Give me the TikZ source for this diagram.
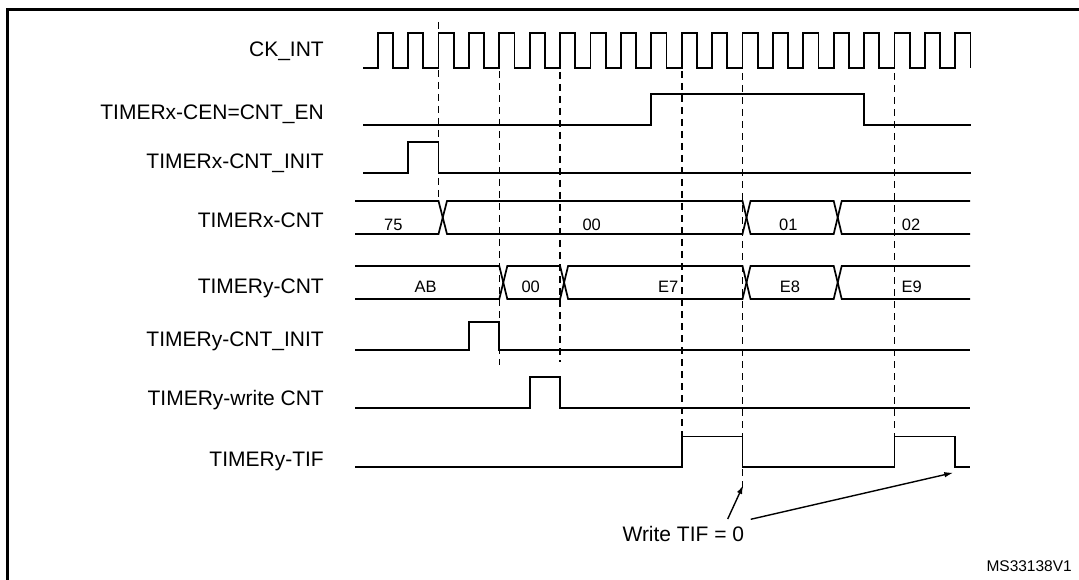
\documentclass[tikz,border=0pt]{standalone}
\usepackage{fontspec}
\setmainfont{Liberation Sans}
\usetikzlibrary{arrows.meta}
\begin{document}
\begin{tikzpicture}[x=1pt,y=-1pt,
  sig/.style={line width=1.7pt, line join=miter},
  guide/.style={line width=1.6pt, dash pattern=on 7pt off 5pt},
  frame/.style={line width=2.4pt},
  lbl/.style={font=\fontsize{21}{24}\selectfont, anchor=base east, inner sep=0pt},
  val/.style={font=\fontsize{16.5}{19}\selectfont, anchor=base, inner sep=0pt},
  note/.style={font=\fontsize{21}{24}\selectfont, anchor=base east, inner sep=0pt},
  tag/.style={font=\fontsize{15.5}{18}\selectfont, anchor=base east, inner sep=0pt},
  pointer/.style={line width=1.4pt, -{Latex[length=9pt,width=5.5pt]}}]
\useasboundingbox (0,0) rectangle (1079,580);
% clock rise positions
\def\Ra{408.1}\def\Rb{438.5}\def\Rc{468.9}\def\Rd{499.3}\def\Re{529.7}\def\Rf{560.1}
\def\Ri{651.3}\def\Rj{681.7}\def\Rl{742.5}\def\Ro{833.7}\def\Rp{864.1}\def\Rq{894.5}\def\Rs{955.3}
% frame
\draw[frame] (7.5,580) -- (7.5,9.6) -- (1079,9.6);
% labels
\node[lbl] (lck)   at (324,57)    {CK\_INT};
\node[lbl] (lcen)  at (324,120)   {TIMERx-CEN=CNT\_EN};
\node[lbl] (lxini) at (324,168.3) {TIMERx-CNT\_INIT};
\node[lbl] (lxcnt) at (324,227.3) {TIMERx-CNT};
\node[lbl] (lycnt) at (324,293.3) {TIMERy-CNT};
\node[lbl] (lyini) at (324,346.7) {TIMERy-CNT\_INIT};
\node[lbl] (lywr)  at (324,405)   {TIMERy-write CNT};
\node[lbl] (ltif)  at (324,466)   {TIMERy-TIF};
% dashed guides
\draw[guide] (\Rb,22) -- (\Rb,201);
\draw[guide] (\Rd,71) -- (\Rd,365);
\draw[guide] (\Rf,72) -- (\Rf,362);
\draw[guide] (\Rj,71) -- (\Rj,437);
\draw[guide] (\Rl,73) -- (\Rl,490);
\draw[guide] (\Rq,73) -- (\Rq,436);
% CK_INT
\draw[sig] (363,68) \foreach \k in {0,...,19}{ -- ({377.7+30.4*\k},68) -- ({377.7+30.4*\k},33) -- ({392.9+30.4*\k},33) -- ({392.9+30.4*\k},68) };
% CEN
\draw[sig] (363,125) -- (\Ri,125) -- (\Ri,94) -- (\Rp,94) -- (\Rp,125) -- (970.5,125);
% TIMERx-CNT_INIT
\draw[sig] (363,173) -- (\Ra,173) -- (\Ra,142) -- (\Rb,142) -- (\Rb,173) -- (970.5,173);
% TIMERx-CNT bus
\def\bt{201}\def\bb{234}
\draw[sig] (355,\bt) -- (\Rb,\bt) -- (\Rb+8.5,\bb) -- (\Rl,\bb) -- (\Rl+8,\bt) -- (\Ro,\bt) -- (\Ro+8,\bb) -- (970,\bb);
\draw[sig] (355,\bb) -- (\Rb,\bb) -- (\Rb+8.5,\bt) -- (\Rl,\bt) -- (\Rl+8,\bb) -- (\Ro,\bb) -- (\Ro+8,\bt) -- (970,\bt);
\node[val] (x75) at (393.3,230) {75};
\node[val] (x00) at (591.7,230) {00};
\node[val] (x01) at (788.3,230) {01};
\node[val] (x02) at (911,230) {02};
% TIMERy-CNT bus
\def\ct{266}\def\cb{299}
\draw[sig] (355,\ct) -- (\Rd,\ct) -- (\Rd+8,\cb) -- (\Rf,\cb) -- (\Rf+8,\ct) -- (\Rl,\ct) -- (\Rl+8,\cb) -- (\Ro,\cb) -- (\Ro+8,\ct) -- (970,\ct);
\draw[sig] (355,\cb) -- (\Rd,\cb) -- (\Rd+8,\ct) -- (\Rf,\ct) -- (\Rf+8,\cb) -- (\Rl,\cb) -- (\Rl+8,\ct) -- (\Ro,\ct) -- (\Ro+8,\cb) -- (970,\cb);
\node[val] (yab) at (425.7,292.7) {AB};
\node[val] (y00) at (530.7,292.7) {00};
\node[val] (ye7) at (668.3,292.7) {E7};
\node[val] (ye8) at (790,292.7) {E8};
\node[val] (ye9) at (911.7,292.7) {E9};
% TIMERy-CNT_INIT
\draw[sig] (355,350) -- (\Rc,350) -- (\Rc,322) -- (\Rd,322) -- (\Rd,350) -- (970,350);
% TIMERy-write CNT
\draw[sig] (355,408) -- (\Re,408) -- (\Re,377) -- (\Rf,377) -- (\Rf,408) -- (970,408);
% TIMERy-TIF
\draw[sig] (355,467) -- (\Rj,467) -- (\Rj,436.5) -- (\Rl,436.5) -- (\Rl,467) -- (\Rq,467) -- (\Rq,436.5) -- (\Rs,436.5) -- (\Rs,467) -- (970,467);
% note and arrows
\node[note] (wtif) at (744.3,541.5) {Write TIF = 0};
\coordinate (s1) at (727.7,519);
\coordinate (t1) at (743.3,485);
\coordinate (s2) at (750.7,519.3);
\coordinate (t2) at (953.3,472.7);
\draw[pointer] (s1) -- (t1);
\draw[pointer] (s2) -- (t2);
\node[tag] (ms) at (1072,571) {MS33138V1};
\end{tikzpicture}
\end{document}
